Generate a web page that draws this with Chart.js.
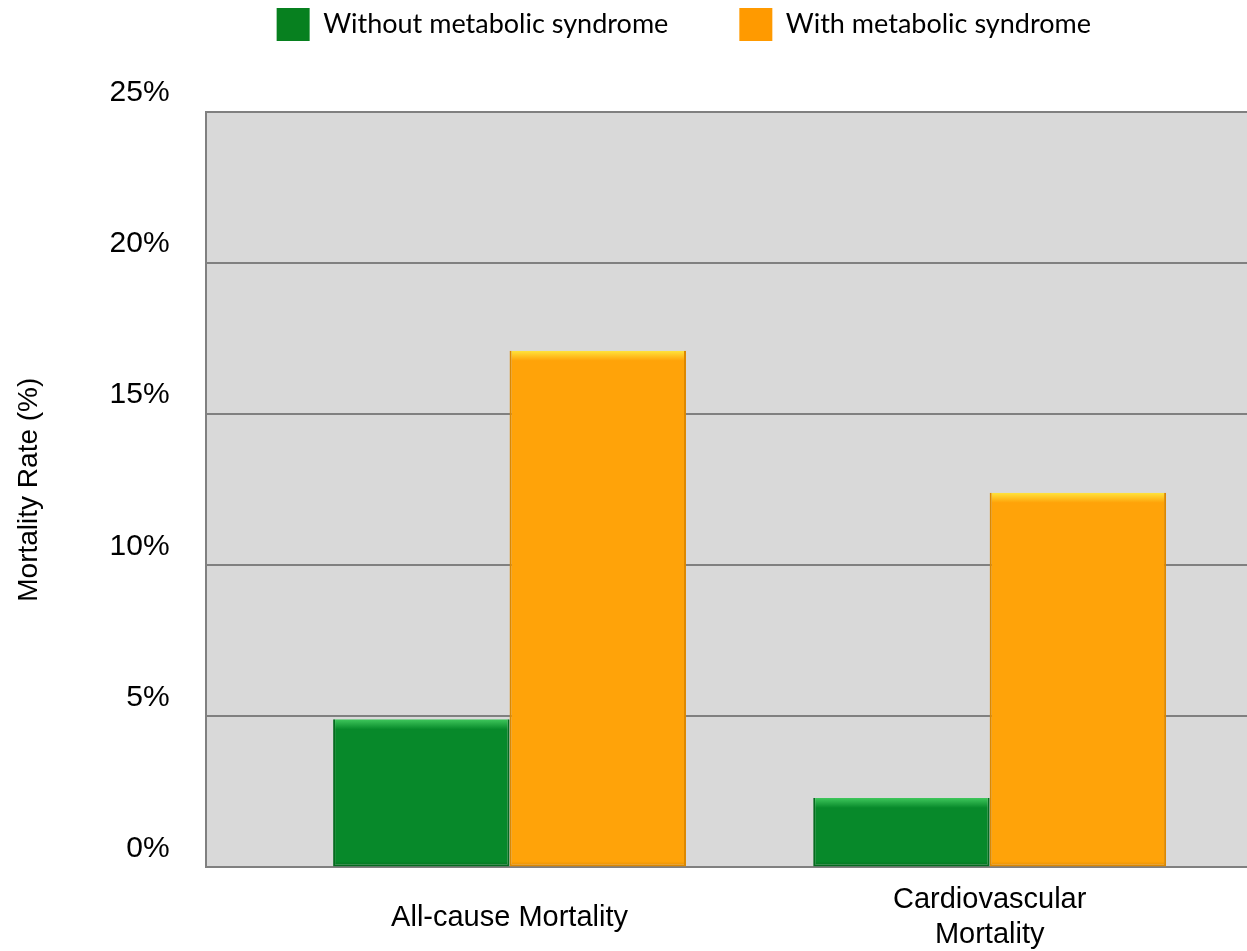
<!DOCTYPE html>
<html lang="en">
<head>
    <meta charset="UTF-8">
    <title>Mortality Rate and Metabolic Syndrome</title>
    <script src="https://cdn.jsdelivr.net/npm/chart.js"></script>
    <style>
        body { margin: 0; background: #fff; overflow: hidden; }
        #wrap { width: 1247px; height: 951px; position: relative; }
    </style>
</head>
<body>
    <div id="wrap"><canvas id="mortalityChart"></canvas></div>

    <script>
        // Chart data
        const categoryLabels = ['All-cause Mortality', ['Cardiovascular', 'Mortality']];
        const categoryPositions = [1, 2];
        const seriesNames = ['Without metabolic syndrome', 'With metabolic syndrome'];
        const withoutMetS = [4.9, 2.3];
        const withMetS = [17.1, 12.4];
        const yTickValues = [0, 5, 10, 15, 20, 25];

        const green = { base: '#07892a', light: '#3fc75c', dark: '#056b1f', legend: '#07801f' };
        const orange = { base: '#ffa309', light: '#ffe43c', dark: '#dd8800', legend: '#ff9a00' };

        // bevel-ish fill: light strip on top, darker at the base
        function barFill(c) {
            return (context) => {
                const chart = context.chart;
                const y = chart.scales && chart.scales.y;
                if (!chart.chartArea || !y || context.type !== 'data' || !context.parsed) return c.base;
                const top = y.getPixelForValue(context.parsed.y);
                const bottom = y.getPixelForValue(0);
                const h = bottom - top;
                if (!(h > 4)) return c.base;
                const band = Math.min(10 / h, 0.4);
                const g = chart.ctx.createLinearGradient(0, top, 0, bottom);
                g.addColorStop(0, c.light);
                g.addColorStop(band, c.base);
                g.addColorStop(1 - Math.min(6 / h, 0.3), c.base);
                g.addColorStop(1, c.dark);
                return g;
            };
        }

        const toPoints = (vals) => vals.map((v, i) => ({ x: categoryPositions[i], y: v }));

        const plotBackground = {
            id: 'plotBackground',
            beforeDraw(chart) {
                const { ctx, chartArea: a } = chart;
                ctx.save();
                ctx.fillStyle = '#d9d9d9';
                ctx.fillRect(a.left, a.top, a.width, a.height);
                ctx.restore();
            }
        };

        // keep the legend row up top and leave room before the plot
        const legendSpacing = {
            id: 'legendSpacing',
            beforeInit(chart) {
                const fit = chart.legend.fit;
                chart.legend.fit = function () {
                    fit.bind(chart.legend)();
                    this.height = 175;
                };
            }
        };

        const ctx = document.getElementById('mortalityChart').getContext('2d');
        const chart = new Chart(ctx, {
            type: 'bar',
            data: {
                datasets: [{
                    label: seriesNames[0],
                    data: toPoints(withoutMetS),
                    backgroundColor: barFill(green),
                    borderColor: green.dark,
                    borderWidth: { left: 2, right: 2, top: 0, bottom: 2 },
                    borderSkipped: false
                }, {
                    label: seriesNames[1],
                    data: toPoints(withMetS),
                    backgroundColor: barFill(orange),
                    borderColor: orange.dark,
                    borderWidth: { left: 2, right: 2, top: 0, bottom: 2 },
                    borderSkipped: false
                }]
            },
            options: {
                responsive: true,
                maintainAspectRatio: false,
                animation: false,
                categoryPercentage: 0.735,
                barPercentage: 1.0,
                layout: { padding: { top: -63, left: 0, right: 0, bottom: -44 } },
                plugins: {
                    tooltip: { enabled: false },
                    legend: {
                        position: 'top',
                        fullSize: false,
                        align: 'start',
                        labels: {
                            boxWidth: 33,
                            boxHeight: 33,
                            padding: 71,
                            color: '#000',
                            font: { family: 'Lato, "Open Sans", sans-serif', size: 27 },
                            generateLabels(chart) {
                                return Chart.defaults.plugins.legend.labels.generateLabels(chart).map((item) => {
                                    const c = item.datasetIndex === 0 ? green : orange;
                                    item.fillStyle = c.legend;
                                    item.strokeStyle = c.legend;
                                    item.lineWidth = 0;
                                    return item;
                                });
                            }
                        }
                    }
                },
                scales: {
                    x: {
                        type: 'linear',
                        min: 0.367,
                        max: 2.536,
                        offset: false,
                        grid: { display: false, offset: false },
                        border: { display: true, color: '#808080', width: 2 },
                        afterBuildTicks(scale) {
                            scale.ticks = categoryPositions.map((v) => ({ value: v }));
                        },
                        ticks: {
                            color: '#000',
                            autoSkip: false,
                            maxRotation: 0,
                            crossAlign: 'center',
                            padding: 25,
                            font: { family: '"Liberation Sans", Arial, sans-serif', size: 29 },
                            callback: (value, index) => categoryLabels[index]
                        }
                    },
                    y: {
                        min: 0,
                        max: 25,
                        afterBuildTicks(scale) {
                            scale.ticks = yTickValues.map((v) => ({ value: v }));
                        },
                        grid: { color: '#808080', lineWidth: 2, drawTicks: false },
                        border: { display: true, color: '#808080', width: 2 },
                        ticks: {
                            color: '#000',
                            padding: 36,
                            labelOffset: -19,
                            font: { family: '"Liberation Sans", Arial, sans-serif', size: 30 },
                            callback: (value) => value + '%'
                        },
                        title: {
                            display: true,
                            text: 'Mortality Rate (%)',
                            color: '#000',
                            padding: { top: 12, bottom: 28 },
                            font: { family: '"Liberation Sans", Arial, sans-serif', size: 28 }
                        }
                    }
                }
            },
            plugins: [plotBackground, legendSpacing]
        });
    </script>
</body>
</html>
